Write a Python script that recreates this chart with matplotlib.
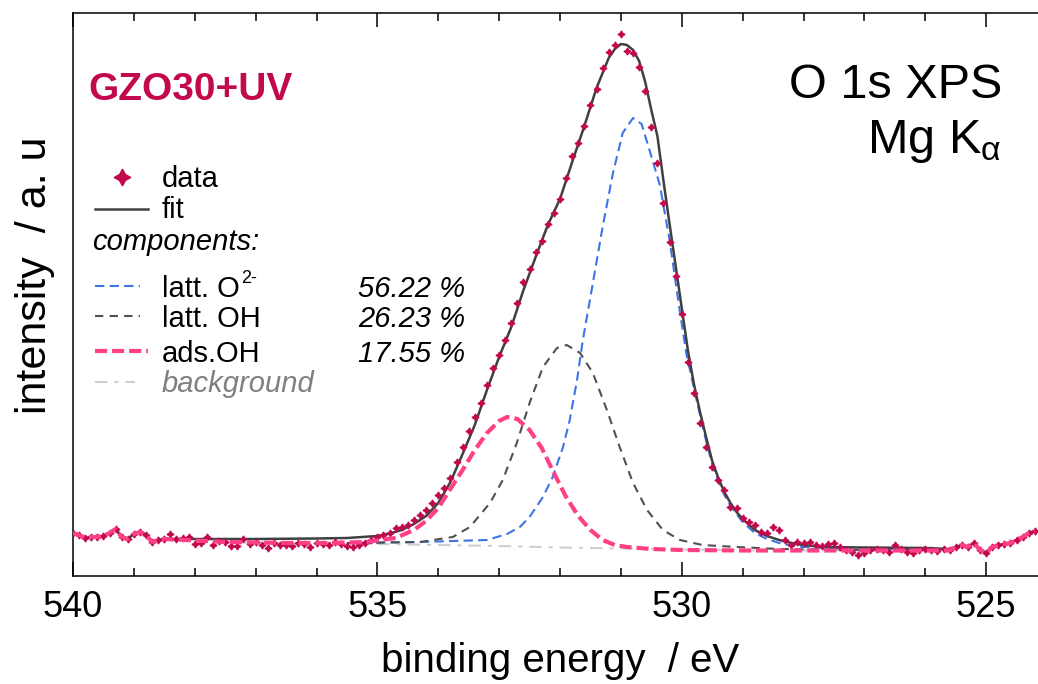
import numpy as np
import matplotlib
matplotlib.use('Agg')
import matplotlib.pyplot as plt
from matplotlib.lines import Line2D
from matplotlib.ticker import MultipleLocator

plt.rcParams['font.family'] = ['Liberation Sans', 'DejaVu Sans']
plt.rcParams['mathtext.fontset'] = 'custom'
plt.rcParams['mathtext.rm'] = 'Liberation Sans'
plt.rcParams['mathtext.it'] = 'Liberation Sans:italic'

# measured O 1s spectrum, 0.1 eV steps from 540.0 down to 524.2 eV (a.u.)
energy = np.round(np.arange(540.0, 524.15, -0.1), 1)
counts = [43, 41, 38, 39, 39, 40, 43, 47, 39, 37, 42, 44, 41, 34, 36, 37,
          42, 37, 38, 39, 32, 33, 39, 31, 35, 34,
          30, 30, 37, 32, 34, 31, 28, 33, 31, 31,
          30, 33, 32, 29, 33, 32, 31, 34, 32, 30,
          29, 31, 33, 36, 39, 41, 43, 48, 49, 51,
          56, 61, 66, 73, 81, 88, 98, 114, 129, 145,
          159, 173, 191, 208, 221, 236, 253, 273, 294, 307,
          324, 335, 352, 363, 377, 398, 420, 433, 450, 471,
          487, 508, 524, 531, 542, 525, 523, 509, 485, 449,
          413, 373, 334, 300, 262, 214, 183, 153, 129, 109,
          96, 86, 69, 68, 58, 54, 51, 44, 43, 49,
          46, 36, 31, 34, 33, 34, 31, 30, 32, 33,
          29, 26, 24, 21, 23, 26, 27, 26, 24, 31,
          27, 24, 23, 26, 27, 26, 25, 27, 26, 29,
          31, 29, 33, 26, 23, 29, 31, 32, 33, 36,
          39, 43, 45]
n_left = 16    # points before the fit window (538.5 eV and up)
n_right = 14   # points after the fit window (525.5 eV and down)

# envelope of the fit inside the fit window
fit_e = [538.0, 537.0, 536.0, 535.5, 535.0, 534.8, 534.6, 534.4, 534.2, 534.0,
         533.8, 533.6, 533.4, 533.2, 533.0, 532.8, 532.6, 532.4, 532.2, 532.0,
         531.8, 531.6, 531.4, 531.2, 531.1, 531.0, 530.9, 530.8, 530.7, 530.6,
         530.5, 530.4, 530.3, 530.2, 530.1, 530.0, 529.9, 529.8, 529.7, 529.6,
         529.5, 529.4, 529.3, 529.2, 529.1, 529.0, 528.8, 528.6, 528.4, 528.2,
         528.0, 527.7, 527.0, 526.0, 525.6]
fit_i = [37, 37, 37.5, 38, 40, 42.5, 46, 52, 60, 73,
         94, 122, 151, 186, 219, 249, 286, 319, 351, 377,
         414, 450, 488, 518, 527, 532, 531, 526, 515, 494,
         466, 440, 395, 352, 310, 268, 226, 192, 164, 139,
         115, 98, 84, 73, 64, 57, 46, 40, 36, 33,
         31, 29, 28.5, 28, 27]

# components (background included)
bg_e = [538.5, 537.0, 536.0, 535.0, 534.0, 533.0, 532.0, 531.0, 530.0, 529.0, 525.6]
bg_i = [36, 33, 32.5, 32, 31, 30, 28.5, 27.5, 26.5, 25.5, 25.5]

ads_e = [537.5, 536.5, 535.8, 535.2, 534.7, 534.4, 534.2, 534.0, 533.8, 533.6,
         533.4, 533.2, 533.0, 532.87, 532.7, 532.5, 532.3, 532.1, 531.9, 531.7,
         531.5, 531.3, 531.1, 530.9, 530.5, 530.0, 529.0, 525.6]
ads_i = [34, 33, 33, 34, 38, 46, 55, 68, 87, 106,
         126, 143, 155, 159, 157, 146, 128, 103, 79, 60,
         46, 36, 31, 29, 27, 26, 25.5, 25.5]

oh_e = [535.5, 534.3, 533.76, 533.48, 533.15, 532.94, 532.71, 532.50, 532.28, 532.05,
        531.89, 531.67, 531.46, 531.23, 531.02, 530.80, 530.57, 530.31, 530.03, 529.66,
        529.10, 528.4, 527.0]
oh_i = [33, 34, 39, 49, 73, 96, 133, 173, 209, 228,
        231, 223, 203, 166, 129, 93, 66, 46, 36, 31,
        29, 27, 26]

o2_e = [535.5, 534.3, 533.2, 532.87, 532.66, 532.5, 532.28, 532.12, 531.95, 531.84,
        531.72, 531.63, 531.46, 531.30, 531.13, 530.97, 530.8, 530.66, 530.53, 530.36,
        530.2, 530.03, 529.92, 529.8, 529.7, 529.6, 529.5, 529.4, 529.3, 529.2,
        529.0, 528.8, 528.6, 528.4, 528.2, 528.0, 527.5, 527.0, 525.6]
o2_i = [33, 34, 36, 42, 49, 59, 79, 99, 129, 156,
        196, 234, 293, 349, 403, 443, 458, 452, 426, 391,
        336, 264, 221, 188, 161, 135, 112, 95, 81, 70,
        54, 43, 37, 33, 30.5, 29, 27.5, 27, 26.5]

shares = ['56.22 %', '26.23 %', '17.55 %']

# outside the fit window the curves run on the measured points
edge_e = list(energy[:n_left]), list(energy[-n_right:])
edge_i = counts[:n_left], counts[-n_right:]
fit_x = edge_e[0] + fit_e + edge_e[1]
fit_y = edge_i[0] + fit_i + edge_i[1]
ads_x = edge_e[0] + ads_e + edge_e[1]
ads_y = edge_i[0] + ads_i + edge_i[1]

c_data = '#c2094d'
c_fit = '#404040'
c_o2 = '#3d74e6'
c_oh = '#505050'
c_ads = '#ff3f86'
c_bg = '#cfcfcf'

W, H = 1038, 684
fig = plt.figure(figsize=(W / 100, H / 100), dpi=100)
ax = fig.add_axes([73 / W, 108 / H, 974 / W, 563 / H])

ax.plot(bg_e, bg_i, color=c_bg, lw=1.5, dashes=(6, 3.3, 2, 3.3), zorder=1)
ax.plot(o2_e, o2_i, color=c_o2, lw=1.5, dashes=(4.5, 2.5), zorder=2)
ax.plot(oh_e, oh_i, color=c_oh, lw=1.5, dashes=(4, 3), zorder=3)
ax.plot(fit_x, fit_y, color=c_fit, lw=1.8, zorder=5)
ax.plot(energy, counts, ls='none', marker=(4, 1, 0), ms=5, color=c_data,
        mec=c_data, zorder=6)
ax.plot(ads_x, ads_y, color=c_ads, lw=3, dashes=(2.9, 1.2), zorder=7)

ax.set_xlim(540, 524)
ax.set_ylim(0, 563)
ax.xaxis.set_major_locator(MultipleLocator(5))
ax.xaxis.set_minor_locator(MultipleLocator(1))
ax.set_yticks([])
ax.tick_params(axis='x', which='both', direction='in', top=True, width=1.1,
               labelsize=26, pad=10)
ax.tick_params(axis='x', which='major', length=10)
ax.tick_params(axis='x', which='minor', length=5.5)
for s in ax.spines.values():
    s.set_linewidth(1.1)
ax.set_xlabel('binding energy  / eV', fontsize=29, labelpad=12)
fig.text(35 / W, 1 - 275 / H, 'intensity  / a. u', rotation=90, fontsize=31,
         ha='center', va='center')


def fx(x):
    return x / W


def fy(y):
    return 1 - y / H


fig.text(fx(88), fy(100), 'GZO30+UV', color=c_data, fontsize=28,
         fontweight='bold', va='baseline')
fig.text(fx(1002), fy(98), 'O 1s XPS', fontsize=35, ha='right', va='baseline')
fig.text(fx(1002), fy(153), r'Mg K$_{\mathregular{α}}$', fontsize=35,
         ha='right', va='baseline')

# hand-made legend
fs = 21
fig.add_artist(Line2D([fx(122)], [fy(177)], ls='none', marker=(4, 1, 0),
                      ms=12, color=c_data, transform=fig.transFigure))
fig.text(fx(162), fy(187), 'data', fontsize=fs, va='baseline')
fig.add_artist(Line2D([fx(95), fx(148)], [fy(209)] * 2, color=c_fit, lw=1.8,
                      transform=fig.transFigure))
fig.text(fx(162), fy(218), 'fit', fontsize=fs, va='baseline')
fig.text(fx(92), fy(250), 'components:', fontsize=fs, style='italic',
         va='baseline')

rows = [('latt. O', c_o2, 1.5, (4.5, 2.5), 140, 286),
        ('latt. OH', c_oh, 1.5, (4, 3), 140, 316),
        ('ads.OH', c_ads, 3, (2.9, 1.2), 148, 351)]
renderer = fig.canvas.get_renderer()
for (lab, col, lw, ds, x1, yc), pct in zip(rows, shares):
    fig.add_artist(Line2D([fx(95), fx(x1)], [fy(yc)] * 2, color=col, lw=lw,
                          dashes=ds, transform=fig.transFigure))
    t = fig.text(fx(162), fy(yc + 11), lab, fontsize=fs, va='baseline')
    if lab == 'latt. O':
        x_end = t.get_window_extent(renderer).x1
        fig.text(x_end / W + 0.001, fy(yc + 11) + 14 / H, '2-', fontsize=13,
                 va='baseline')
    fig.text(fx(465), fy(yc + 11), pct, fontsize=fs, style='italic',
             ha='right', va='baseline')

fig.add_artist(Line2D([fx(95), fx(135)], [fy(382)] * 2, color=c_bg, lw=1.5,
                      dashes=(6, 3.3, 2, 3.3), transform=fig.transFigure))
fig.text(fx(162), fy(392), 'background', fontsize=fs, style='italic',
         color='#808080', va='baseline')

fig.savefig('out.png', dpi=100)
